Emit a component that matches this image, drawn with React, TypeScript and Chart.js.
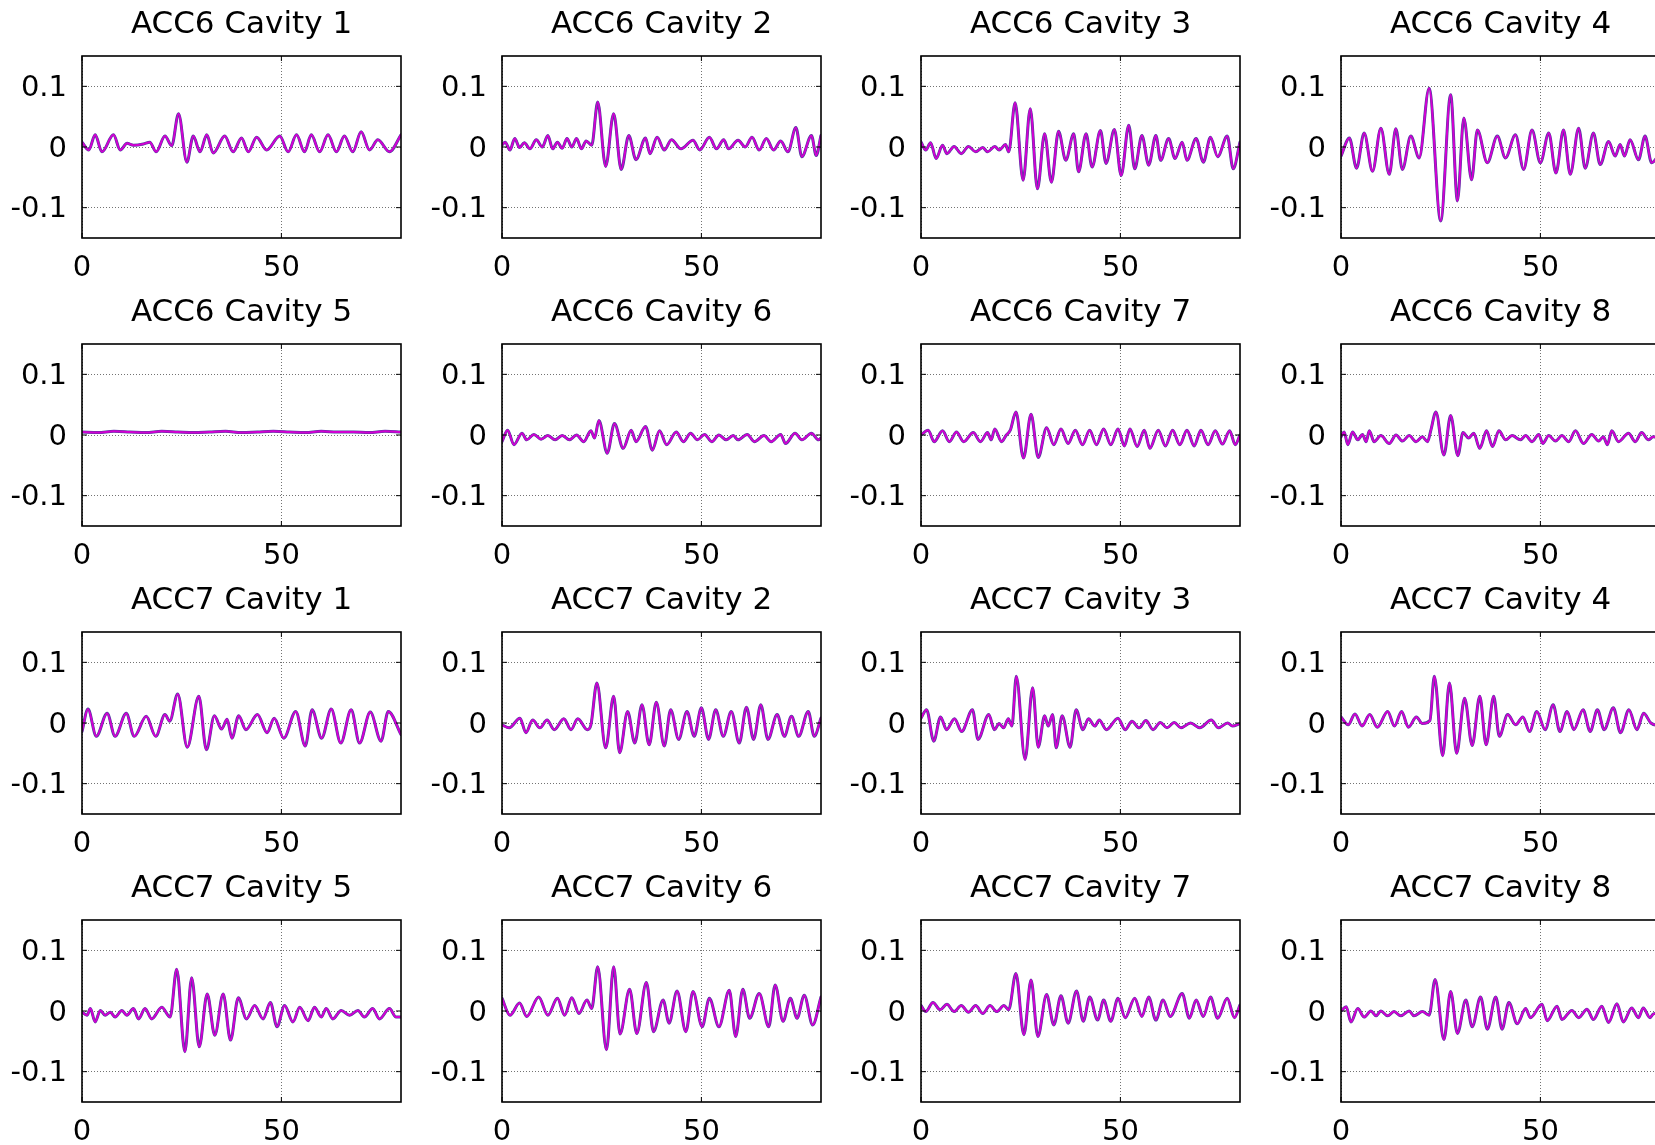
import React, { useEffect, useRef } from 'react';
import { Chart, registerables } from 'chart.js';

Chart.register(...registerables);

// ---------- shared axis definitions ----------
const panelTitles = [
  'ACC6 Cavity 1', 'ACC6 Cavity 2', 'ACC6 Cavity 3', 'ACC6 Cavity 4',
  'ACC6 Cavity 5', 'ACC6 Cavity 6', 'ACC6 Cavity 7', 'ACC6 Cavity 8',
  'ACC7 Cavity 1', 'ACC7 Cavity 2', 'ACC7 Cavity 3', 'ACC7 Cavity 4',
  'ACC7 Cavity 5', 'ACC7 Cavity 6', 'ACC7 Cavity 7', 'ACC7 Cavity 8',
];
const xTicks = [0, 50];
const xTickLabels = ['0', '50'];
const yTicks = [-0.1, 0, 0.1];
const yTickLabels = ['-0.1', '0', '0.1'];
const xRange = [0, 80];
const yRange = [-0.15, 0.15];

// ---------- waveform data (x, amplitude) per cavity ----------
const acc6c1X = [0, 1.7, 3.3, 5, 7.9, 9.6, 11.3, 12.9, 15.4, 17, 18.6, 20.8, 22.5, 24.2, 26.3, 27.9, 29.6, 31.3, 32.9, 35.8, 37.9, 40, 41.7, 43.8, 46.3, 49.6, 51.7, 53.8, 55.8, 57.5, 59.6, 61.7, 63.8, 65.8, 67.9, 70, 72.1, 74.2, 77.1, 80];
const acc6c1Y = [0.008, -0.005, 0.02, -0.008, 0.02, -0.005, 0.006, 0.003, 0.005, 0.008, -0.008, 0.018, 0.002, 0.055, -0.025, 0.018, -0.008, 0.02, -0.01, 0.018, -0.008, 0.015, -0.008, 0.016, -0.005, 0.018, -0.008, 0.02, -0.008, 0.02, -0.008, 0.02, -0.008, 0.018, -0.008, 0.025, -0.005, 0.012, -0.008, 0.02];

const acc6c2X = [0, 0.8, 2, 3.2, 4.4, 5.6, 7, 8.6, 10.1, 11.5, 12.7, 13.9, 15.1, 16.3, 17.5, 18.7, 19.9, 21.1, 22.5, 24, 26, 28, 29.9, 31.8, 33.6, 36, 37.1, 38.9, 40.7, 42.5, 44.9, 47.9, 49.6, 52, 53.8, 55.6, 56.8, 59.2, 61, 62.7, 64.5, 66.3, 68.1, 69.9, 71.7, 73.7, 75.2, 77.6, 78.8, 80];
const acc6c2Y = [0.003, 0.008, -0.005, 0.014, -0.001, 0.007, -0.003, 0.012, 0, 0.019, -0.003, 0.008, -0.002, 0.014, 0, 0.014, -0.003, 0.01, 0.003, 0.074, -0.032, 0.055, -0.037, 0.019, -0.021, 0.015, -0.011, 0.016, -0.005, 0.012, -0.003, 0.011, -0.005, 0.016, -0.003, 0.012, -0.003, 0.011, 0, 0.016, -0.005, 0.014, -0.005, 0.01, -0.008, 0.032, -0.016, 0.019, -0.014, 0.019];

const acc6c3X = [0, 1.2, 2.4, 3.8, 5.4, 6.5, 8.3, 10.1, 11.9, 13.7, 15.5, 16.7, 18.5, 19.6, 21.2, 22, 23.6, 25.6, 27.4, 29.2, 31, 32.7, 34.5, 36.3, 38.3, 39.5, 41.4, 42.9, 45, 46.4, 48.5, 50.2, 52.1, 53.6, 55.4, 57.1, 58.9, 60.1, 62.1, 63.7, 65.5, 66.7, 69, 70.8, 72.6, 74.4, 76.8, 78.3, 80];
const acc6c3Y = [0.008, -0.005, 0.007, -0.019, 0.003, -0.011, 0.001, -0.011, 0.001, -0.008, -0.001, -0.008, 0.001, -0.005, 0.004, -0.008, 0.073, -0.055, 0.063, -0.069, 0.022, -0.058, 0.026, -0.022, 0.022, -0.041, 0.022, -0.033, 0.027, -0.027, 0.029, -0.047, 0.036, -0.036, 0.019, -0.03, 0.019, -0.022, 0.014, -0.019, 0.008, -0.022, 0.014, -0.025, 0.016, -0.016, 0.018, -0.036, 0.008];

const acc6c4X = [0, 2.1, 3.9, 5.8, 7.9, 10, 12.1, 13.75, 15.4, 17.5, 19.6, 22.1, 25, 27.5, 29.2, 30.8, 32.75, 34.2, 36.7, 39.2, 41.25, 43.75, 45.8, 47.9, 50, 52.1, 53.9, 55.8, 57.5, 59.6, 61.25, 63.3, 65, 67.1, 68.75, 70, 71.1, 72.5, 74.6, 76.25, 77.9, 80];
const acc6c4Y = [-0.015, 0.015, -0.035, 0.023, -0.04, 0.031, -0.045, 0.03, -0.037, 0.018, -0.018, 0.097, -0.122, 0.086, -0.089, 0.048, -0.054, 0.028, -0.026, 0.018, -0.018, 0.02, -0.037, 0.028, -0.026, 0.023, -0.043, 0.028, -0.045, 0.031, -0.035, 0.023, -0.029, 0.009, -0.015, 0.004, -0.015, 0.012, -0.021, 0.018, -0.026, -0.01];

const acc6c5X = [0, 4, 8, 12, 16, 20, 24, 28, 32, 36, 40, 44, 48, 52, 56, 60, 64, 68, 72, 76, 80];
const acc6c5Y = [0.005, 0.004, 0.006, 0.005, 0.004, 0.006, 0.005, 0.004, 0.005, 0.006, 0.004, 0.005, 0.006, 0.005, 0.004, 0.006, 0.005, 0.005, 0.004, 0.006, 0.005];

const acc6c6X = [0, 1.4, 3, 5, 6.2, 8, 9.8, 11.5, 13.3, 15.1, 16.9, 18.7, 20.5, 22.3, 23.2, 24.3, 26.4, 28.2, 30.4, 32.4, 33.6, 36, 37.7, 39.5, 41.3, 43.7, 45.5, 47.3, 49, 50.8, 52.6, 54.4, 56.2, 58, 59.2, 61.5, 63.3, 65.7, 67.5, 69.9, 71.1, 73.5, 75.2, 77.6, 79.4, 80];
const acc6c6Y = [-0.011, 0.008, -0.016, 0.003, -0.008, 0.001, -0.007, -0.001, -0.008, -0.001, -0.008, 0, -0.011, 0.007, -0.005, 0.024, -0.03, 0.019, -0.022, 0.008, -0.011, 0.014, -0.025, 0.007, -0.016, 0.005, -0.011, 0.003, -0.008, 0.001, -0.011, 0, -0.008, -0.001, -0.008, 0.001, -0.011, -0.001, -0.011, 0.001, -0.014, 0.003, -0.008, 0.003, -0.008, -0.005];

const acc6c7X = [0, 1.8, 3.3, 5.4, 7.1, 8.9, 10.7, 13.1, 14.9, 16.7, 17.6, 18.5, 20.2, 21.4, 22.4, 23.8, 25.7, 27.6, 29.4, 31.5, 33.3, 35.1, 36.9, 38.7, 40.5, 42.3, 44, 45.8, 47.6, 49.4, 51, 52.4, 54.2, 56, 57.4, 59.5, 61.3, 63.1, 64.9, 66.7, 68.5, 70.2, 72, 73.8, 75.6, 77.4, 78.8, 80];
const acc6c7Y = [0, 0.008, -0.011, 0.007, -0.011, 0.005, -0.011, 0.004, -0.011, 0.004, -0.008, 0.01, -0.011, 0, 0.008, 0.038, -0.038, 0.034, -0.037, 0.012, -0.016, 0.01, -0.014, 0.008, -0.016, 0.008, -0.016, 0.01, -0.016, 0.01, -0.018, 0.01, -0.019, 0.008, -0.022, 0.008, -0.018, 0.008, -0.016, 0.008, -0.018, 0.008, -0.016, 0.007, -0.015, 0.007, -0.016, 0];

const acc6c8X = [0, 0.8, 1.7, 2.9, 4.2, 5.4, 6.3, 7.1, 8.3, 10, 12.1, 13.8, 15.4, 17.1, 18.8, 20.4, 21.7, 22.5, 23.8, 25.8, 27.5, 29.3, 30.6, 32, 33.3, 34.8, 36.5, 38, 39.6, 41.3, 42.9, 45, 46.3, 47.9, 49.6, 50.6, 52.1, 53.8, 55.4, 57.1, 58.8, 60.8, 62.9, 64.6, 65.8, 66.8, 67.9, 69.6, 72.1, 73.8, 75.4, 77.1, 78.3, 80];
const acc6c8Y = [-0.003, 0.005, -0.016, 0.005, -0.008, 0.001, -0.011, 0.007, -0.011, -0.001, -0.014, 0, -0.01, -0.001, -0.011, -0.003, -0.011, 0.007, 0.038, -0.033, 0.032, -0.034, 0.004, -0.005, 0.003, -0.022, 0.007, -0.019, 0.007, -0.008, -0.001, -0.008, -0.001, -0.011, 0.001, -0.014, -0.001, -0.01, -0.001, -0.011, 0.007, -0.014, 0.001, -0.01, -0.003, -0.016, 0.007, -0.011, 0.003, -0.011, 0.004, -0.008, -0.003, -0.005];

const acc7c1X = [0, 1.5, 3.6, 6.3, 8.3, 11.1, 13.1, 16.1, 18.5, 20.8, 22, 24, 26.4, 29.3, 31.2, 33.2, 35, 36.4, 37.6, 39.3, 41.1, 44, 46.4, 48.2, 50.6, 53.6, 56, 57.7, 60.1, 62.5, 64.9, 67.5, 69.6, 72.3, 75, 76.8, 80];
const acc7c1Y = [-0.014, 0.023, -0.022, 0.016, -0.022, 0.016, -0.022, 0.011, -0.022, 0.014, 0.003, 0.048, -0.04, 0.044, -0.044, 0.012, -0.01, 0.006, -0.025, 0.012, -0.011, 0.014, -0.016, 0.008, -0.025, 0.019, -0.038, 0.022, -0.025, 0.023, -0.033, 0.022, -0.033, 0.018, -0.03, 0.019, -0.019];

const acc7c2X = [0, 1.8, 4.5, 6, 7.7, 9.5, 11.3, 13.1, 15.5, 17.3, 19, 21.4, 22.3, 23.8, 26, 28, 29.5, 31.5, 33.3, 35.1, 36.9, 38.7, 40.7, 42.3, 44.3, 46.4, 48.2, 50, 51.8, 53.6, 55.5, 57.5, 59.5, 61.3, 63.1, 64.9, 66.7, 69, 70.8, 72.6, 74.4, 76.8, 78.3, 80];
const acc7c2Y = [-0.003, -0.008, 0.008, -0.016, 0.005, -0.008, 0.005, -0.011, 0.007, -0.011, 0.007, -0.011, -0.003, 0.066, -0.041, 0.044, -0.049, 0.019, -0.033, 0.03, -0.036, 0.034, -0.038, 0.022, -0.027, 0.019, -0.022, 0.025, -0.027, 0.022, -0.022, 0.019, -0.033, 0.026, -0.027, 0.03, -0.027, 0.014, -0.022, 0.011, -0.022, 0.019, -0.022, 0.008];

const acc7c3X = [0, 1.4, 3.2, 4.9, 6.4, 8.4, 10.2, 12.9, 14.3, 17, 18.4, 19.6, 20.7, 21.9, 22.8, 23.9, 26.1, 28, 29.4, 31, 31.9, 33, 33.9, 35.4, 37.4, 38.9, 40.6, 42, 43.6, 44.7, 46.5, 49.4, 51.2, 52.9, 54.7, 56.4, 58.2, 60, 61.7, 63.5, 65.2, 67.6, 69.9, 72.8, 74.6, 76.9, 78.1, 80];
const acc7c3Y = [0.008, 0.022, -0.03, 0.01, -0.011, 0.007, -0.014, 0.022, -0.027, 0.014, -0.011, -0.001, -0.008, 0.007, -0.005, 0.077, -0.06, 0.058, -0.04, 0.012, -0.005, 0.014, -0.041, 0.012, -0.04, 0.022, -0.011, 0.007, -0.005, 0.005, -0.011, 0.008, -0.011, 0.003, -0.008, 0.004, -0.011, 0.001, -0.008, 0.001, -0.008, 0, -0.008, 0.005, -0.008, 0, -0.005, -0.001];

const acc7c4X = [0, 1.8, 3.5, 5.3, 7.2, 9.1, 11.7, 13.4, 15.2, 16.9, 18.9, 20.4, 22.3, 23.4, 25.5, 27.2, 29, 31, 32.9, 34.8, 36.4, 38.3, 39.7, 41.8, 43.8, 45.6, 47.3, 49.1, 51.2, 53.2, 54.9, 56.7, 58.4, 60.7, 62.5, 64.3, 66, 68.3, 70.1, 72.2, 74.2, 75.9, 77.7, 80];
const acc7c4Y = [0.01, -0.003, 0.015, -0.005, 0.014, -0.007, 0.019, -0.005, 0.019, -0.007, 0.01, -0.001, 0.004, 0.077, -0.054, 0.066, -0.05, 0.041, -0.037, 0.044, -0.036, 0.044, -0.022, 0.014, -0.003, 0.01, -0.014, 0.019, -0.011, 0.03, -0.014, 0.019, -0.011, 0.022, -0.014, 0.022, -0.011, 0.025, -0.016, 0.022, -0.011, 0.016, 0, -0.005];

const acc7c5X = [0, 1.25, 2.1, 3.3, 4.6, 5.8, 7.1, 8.3, 10, 11.25, 12.9, 14.2, 15.8, 17.5, 20, 22.1, 23.75, 25.8, 27.5, 29.4, 31.4, 33.3, 35.4, 37.25, 39.2, 41.25, 43.3, 45.4, 47.25, 48.9, 50.8, 52.9, 54.6, 56.7, 58.3, 60, 61.25, 62.9, 65, 67.1, 69.2, 70.8, 72.9, 74.6, 77.1, 78.75, 80];
const acc7c5Y = [-0.002, -0.007, 0.004, -0.018, 0.001, -0.007, -0.002, -0.01, 0.001, -0.007, 0.004, -0.013, 0.004, -0.013, 0.006, -0.01, 0.069, -0.067, 0.055, -0.059, 0.028, -0.04, 0.028, -0.048, 0.022, -0.013, 0.009, -0.013, 0.014, -0.026, 0.009, -0.018, 0.006, -0.016, 0.006, -0.01, 0.004, -0.013, 0.001, -0.007, 0.001, -0.01, 0.004, -0.013, 0.004, -0.01, -0.01];

const acc7c6X = [0, 2, 4.4, 6.2, 9.2, 11.5, 13.9, 15.7, 17.5, 19.3, 21.3, 22.5, 24, 26.2, 28, 29.6, 32, 33.8, 36.2, 38, 40.4, 41.9, 43.9, 46.1, 47.9, 50.2, 52, 54.4, 57, 58.6, 60.4, 62.1, 64.5, 66.9, 68.5, 70.5, 72.3, 74, 75.8, 77.9, 80];
const acc7c6Y = [0.021, -0.007, 0.013, -0.009, 0.023, -0.007, 0.021, -0.007, 0.022, -0.004, 0.018, 0.004, 0.073, -0.064, 0.073, -0.038, 0.036, -0.037, 0.047, -0.034, 0.018, -0.02, 0.033, -0.034, 0.032, -0.026, 0.021, -0.026, 0.034, -0.042, 0.036, -0.012, 0.029, -0.026, 0.043, -0.017, 0.021, -0.012, 0.026, -0.023, 0.023];

const acc7c7X = [0, 1.2, 3, 4.8, 6.5, 8.3, 10.1, 11.9, 13.7, 15.5, 17.3, 19, 20.8, 22, 23.8, 25.8, 27.6, 29.3, 31.5, 33.3, 35.1, 36.9, 39, 40.7, 42.3, 44.3, 45.8, 47.6, 49.4, 51.2, 53.6, 55.4, 57.1, 58.9, 60.7, 62.5, 65.5, 67.3, 69, 70.8, 72.6, 74.4, 76.8, 78.6, 80];
const acc7c7Y = [0.009, -0.001, 0.014, 0.002, 0.011, -0.001, 0.009, -0.002, 0.009, -0.004, 0.009, -0.001, 0.009, 0.002, 0.062, -0.039, 0.051, -0.042, 0.027, -0.023, 0.025, -0.02, 0.033, -0.017, 0.023, -0.015, 0.018, -0.017, 0.021, -0.011, 0.021, -0.009, 0.023, -0.015, 0.018, -0.009, 0.029, -0.012, 0.018, -0.009, 0.023, -0.012, 0.021, -0.011, 0.01];

const acc7c8X = [0, 1.3, 2.5, 4.2, 5.8, 7.5, 8.8, 10, 11.7, 13.3, 15, 17.1, 18.3, 20.4, 22.1, 23.6, 25.8, 27.5, 29.2, 31.3, 32.9, 35, 36.7, 38.8, 40.4, 42.1, 44.2, 46.3, 47.5, 50.4, 51.7, 54.2, 55.4, 57.9, 59.6, 61.7, 63.3, 65.4, 67.1, 69.2, 70.8, 72.9, 74.6, 75.8, 77.5, 78.3, 80];
const acc7c8Y = [0, 0.007, -0.018, 0.004, -0.01, 0, -0.008, 0, -0.008, -0.001, -0.008, 0, -0.008, -0.001, -0.007, 0.052, -0.047, 0.032, -0.037, 0.018, -0.026, 0.023, -0.03, 0.023, -0.03, 0.014, -0.021, 0.004, -0.011, 0.011, -0.016, 0.008, -0.014, 0.001, -0.011, 0.003, -0.014, 0.008, -0.019, 0.012, -0.018, 0.005, -0.011, 0.005, -0.011, -0.005, -0.003];

const panelSeries: number[][][] = [
  [acc6c1X, acc6c1Y], [acc6c2X, acc6c2Y], [acc6c3X, acc6c3Y], [acc6c4X, acc6c4Y],
  [acc6c5X, acc6c5Y], [acc6c6X, acc6c6Y], [acc6c7X, acc6c7Y], [acc6c8X, acc6c8Y],
  [acc7c1X, acc7c1Y], [acc7c2X, acc7c2Y], [acc7c3X, acc7c3Y], [acc7c4X, acc7c4Y],
  [acc7c5X, acc7c5Y], [acc7c6X, acc7c6Y], [acc7c7X, acc7c7Y], [acc7c8X, acc7c8Y],
];

// ---------- layout ----------
const CANVAS_W = 420;
const CANVAS_H = 288;
const COL_STEP = 419.7;
const ROW_STEP = 288.1;
const FONT = 'DejaVu Sans';

const framePlugin = {
  id: 'matlabFrame',
  afterDraw(chart: any) {
    const { ctx, chartArea: a, scales } = chart;
    ctx.save();
    ctx.strokeStyle = '#000';
    ctx.lineWidth = 1.6;
    ctx.strokeRect(a.left, a.top, a.right - a.left, a.bottom - a.top);
    ctx.lineWidth = 1;
    const tl = 5;
    ctx.beginPath();
    for (const v of yTicks) {
      const y = scales.y.getPixelForValue(v);
      ctx.moveTo(a.left, y); ctx.lineTo(a.left + tl, y);
      ctx.moveTo(a.right, y); ctx.lineTo(a.right - tl, y);
    }
    for (const v of xTicks) {
      const x = scales.x.getPixelForValue(v);
      ctx.moveTo(x, a.bottom); ctx.lineTo(x, a.bottom - tl);
      ctx.moveTo(x, a.top); ctx.lineTo(x, a.top + tl);
    }
    ctx.stroke();
    ctx.restore();
  },
};

function Panel({ index }: { index: number }) {
  const ref = useRef<HTMLCanvasElement | null>(null);
  const row = Math.floor(index / 4);
  const col = index % 4;

  useEffect(() => {
    const [xs, ys] = panelSeries[index];
    const n = Math.min(xs.length, ys.length);
    const pts: { x: number; y: number }[] = [];
    for (let i = 0; i < n; i++) pts.push({ x: xs[i], y: ys[i] });

    const lineCommon = {
      pointRadius: 0,
      pointHoverRadius: 0,
      cubicInterpolationMode: 'monotone' as const,
      borderJoinStyle: 'round' as const,
      borderCapStyle: 'round' as const,
      fill: false,
    };

    const chart = new Chart(ref.current as HTMLCanvasElement, {
      type: 'line',
      data: {
        datasets: [
          { label: 'Pulse (magenta)', data: pts, borderColor: '#d200d2', borderWidth: 2, ...lineCommon },
          { label: 'Pulse (blue)', data: pts, borderColor: '#4a3f9c', borderWidth: 3, ...lineCommon },
        ],
      },
      options: {
        animation: false,
        responsive: false,
        devicePixelRatio: 1,
        events: [],
        layout: { padding: { left: 0, right: 19, top: 0, bottom: 0 } },
        plugins: {
          legend: { display: false },
          tooltip: { enabled: false },
          title: {
            display: true,
            text: panelTitles[index],
            fullSize: false,
            color: '#000',
            font: { family: FONT, size: 31, weight: 'normal', lineHeight: 1.2 },
            padding: { top: 6, bottom: 12.8 },
          },
        },
        scales: {
          x: {
            type: 'linear',
            min: xRange[0],
            max: xRange[1],
            afterBuildTicks: (s: any) => { s.ticks = xTicks.map((v) => ({ value: v })); },
            afterFit: (s: any) => { s.height = 50; },
            ticks: {
              autoSkip: false,
              maxRotation: 0,
              padding: 13,
              color: '#000',
              font: { family: FONT, size: 29 },
              callback: (_v: any, i: number) => xTickLabels[i],
            },
            grid: { color: 'rgba(0,0,0,0.55)', lineWidth: 1, drawTicks: false },
            border: { display: false, dash: [1, 2] },
          },
          y: {
            type: 'linear',
            min: yRange[0],
            max: yRange[1],
            afterBuildTicks: (s: any) => { s.ticks = yTicks.map((v) => ({ value: v })); },
            afterFit: (s: any) => { s.width = 82; },
            ticks: {
              autoSkip: false,
              padding: 15,
              labelOffset: 2,
              color: '#000',
              font: { family: FONT, size: 29 },
              callback: (_v: any, i: number) => yTickLabels[i],
            },
            grid: { color: 'rgba(0,0,0,0.55)', lineWidth: 1, drawTicks: false },
            border: { display: false, dash: [1, 2] },
          },
        },
      },
      plugins: [framePlugin],
    });
    return () => chart.destroy();
  }, [index]);

  return (
    <canvas
      ref={ref}
      width={CANVAS_W}
      height={CANVAS_H}
      style={{
        position: 'absolute',
        left: Math.round(col * COL_STEP),
        top: Math.round(row * ROW_STEP),
        width: CANVAS_W,
        height: CANVAS_H,
      }}
    />
  );
}

export default function App() {
  return (
    <div
      style={{
        position: 'absolute',
        left: 0,
        top: 0,
        width: 1655,
        height: 1145,
        overflow: 'hidden',
        background: '#fff',
      }}
    >
      {panelTitles.map((t, i) => (
        <Panel key={t} index={i} />
      ))}
    </div>
  );
}
